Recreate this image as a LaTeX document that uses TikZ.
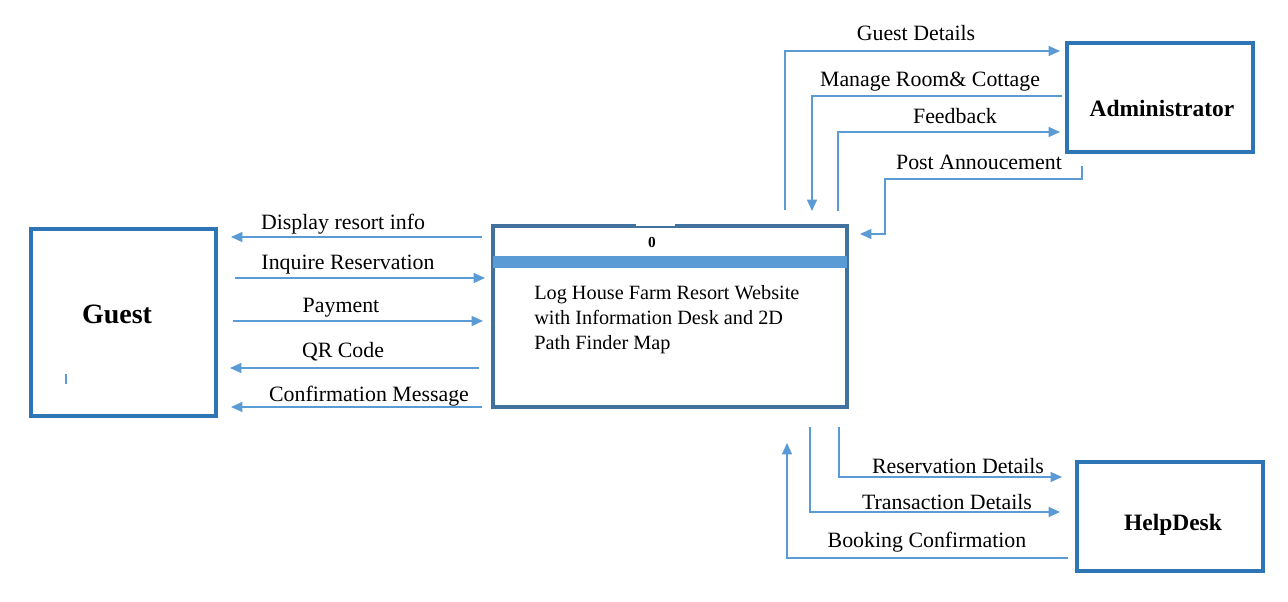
\documentclass[tikz,border=0pt]{standalone}
\usepackage{fontspec}
\setmainfont{Liberation Serif}
\usetikzlibrary{arrows.meta}
\definecolor{boxblue}{HTML}{2E75B6}
\definecolor{procblue}{HTML}{41719C}
\definecolor{flowblue}{HTML}{5B9BD5}
\tikzset{
  entity/.style={draw=boxblue, line width=2.6pt, fill=white, inner sep=0pt},
  flow/.style={draw=flowblue, line width=0.8pt, -{Triangle[length=8.5pt,width=7.5pt]}},
  flowplain/.style={draw=flowblue, line width=0.8pt},
  lbl/.style={font=\fontsize{16.4}{19}\selectfont, inner sep=0pt},
  ent/.style={font=\fontsize{17.6}{20}\selectfont\bfseries, inner sep=0pt},
}
\begin{document}
\begin{tikzpicture}[x=0.75pt,y=-0.75pt]
\useasboundingbox (0,0) rectangle (1288,602);
% entities
\draw[entity] (31,229) rectangle (216,416);
\node[ent, font=\fontsize{21}{24}\selectfont\bfseries] (guest) at (117,314) {Guest};
\draw[flowplain] (66,374) -- (66,384);
\draw[entity] (1067,43) rectangle (1253,152);
\node[ent] (admin) at (1162,108) {Administrator};
\draw[entity] (1077,462) rectangle (1263,571);
\node[ent] (help) at (1173,525) {HelpDesk};
% process
\draw[draw=procblue, line width=2.6pt, fill=white] (493,226) rectangle (847,407);
\fill[flowblue] (493,256) rectangle (847,268);
\draw[white, line width=1.2pt] (636,225) -- (675,225);
\node[font=\fontsize{11.5}{13}\selectfont\bfseries, inner sep=0pt] (pid) at (652,242) {0};
\node[font=\fontsize{15.2}{18.75}\selectfont, inner sep=0pt, anchor=north west, align=left] (proc) at (534,285)
 {Log House Farm Resort Website\\with Information Desk and 2D\\Path Finder Map};
% coordinates for flows
\coordinate (d1) at (482,237); \coordinate (d2) at (231,237);
\coordinate (i1) at (235,278); \coordinate (i2) at (485,278);
\coordinate (p1) at (233,321); \coordinate (p2) at (483,321);
\coordinate (q1) at (479,368); \coordinate (q2) at (230,368);
\coordinate (c1) at (482,407); \coordinate (c2) at (231,407);
% left flows
\draw[flow] (d1) -- (d2);
\node[lbl] (ldisp) at (343,224) {Display resort info};
\draw[flow] (i1) -- (i2);
\node[lbl] (linq) at (348,265) {Inquire Reservation};
\draw[flow] (p1) -- (p2);
\node[lbl] (lpay) at (341,308) {Payment};
\draw[flow] (q1) -- (q2);
\node[lbl] (lqr) at (343,352) {QR Code};
\draw[flow] (c1) -- (c2);
\node[lbl] (lconf) at (369,396) {Confirmation Message};
% top right flows
\coordinate (g1) at (785,210); \coordinate (g2) at (1060,51);
\draw[flow] (g1) |- (g2);
\node[lbl] (lguest) at (916,33) {Guest Details};
\coordinate (m1) at (1062,96); \coordinate (m2) at (812,211);
\draw[flow] (m1) -| (m2);
\node[lbl] (lman) at (930,82) {Manage Room\& Cottage};
\coordinate (f1) at (838,211); \coordinate (f2) at (1060,132);
\draw[flow] (f1) |- (f2);
\node[lbl] (lfeed) at (955,116) {Feedback};
\coordinate (a1) at (1082,166); \coordinate (a2) at (860,234);
\draw[flow] (a1) -- (1082,179) -- (885,179) -- (885,234) -- (a2);
\node[lbl] (lpost) at (979,162) {Post Annoucement};
% bottom right flows
\coordinate (r1) at (839,427); \coordinate (r2) at (1062,477);
\draw[flow] (r1) |- (r2);
\node[lbl] (lres) at (958,466) {Reservation Details};
\coordinate (t1) at (810,427); \coordinate (t2) at (1060,512);
\draw[flow] (t1) |- (t2);
\node[lbl] (ltra) at (947,502) {Transaction Details};
\coordinate (b1) at (1068,558); \coordinate (b2) at (787,443);
\draw[flow] (b1) -| (b2);
\node[lbl] (lbook) at (927,542) {Booking Confirmation};
\end{tikzpicture}
\end{document}
